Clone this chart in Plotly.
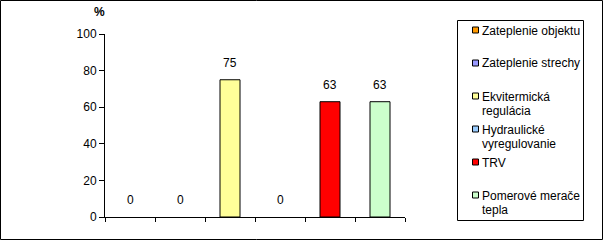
import plotly.graph_objects as go

categories = ["Zateplenie objektu", "Zateplenie strechy", "Ekvitermická regulácia",
              "Hydraulické vyregulovanie", "TRV", "Pomerové merače tepla"]
legend_lines = [["Zateplenie objektu"], ["Zateplenie strechy"],
                ["Ekvitermická", "regulácia"], ["Hydraulické", "vyregulovanie"],
                ["TRV"], ["Pomerové merače", "tepla"]]
values = [0, 0, 75, 0, 63, 63]
colors = ["#FF9900", "#9999FF", "#FFFF99", "#99CCFF", "#FF0000", "#CCFFCC"]
y_ticks = [0, 20, 40, 60, 80, 100]

W, H = 603, 240
L, R, T, B = 105, 198, 34, 23
PW, PH = W - L - R, H - T - B
FONT = "Arial, Liberation Sans, sans-serif"


def px(x):
    return (x - L) / PW


def py(y):
    return (T + PH - y) / PH


fig = go.Figure()
for cat, v, c in zip(categories, values, colors):
    fig.add_trace(go.Bar(x=[cat], y=[v], name=cat, width=0.4, showlegend=False,
                         marker=dict(color=c, line=dict(color="black", width=1 if v else 0))))
    fig.add_annotation(x=cat, y=v, text=str(v), showarrow=False, yanchor="bottom",
                       yshift=8, font=dict(family=FONT, size=12, color="black"))

# "%" unit label
fig.add_annotation(xref="paper", yref="paper", x=px(99), y=py(12.5), xanchor="center",
                   yanchor="middle", text="<b>%</b>", showarrow=False,
                   font=dict(family=FONT, size=12, color="black"))

# outer frame
fig.add_shape(type="rect", xref="paper", yref="paper",
              x0=px(0.5), x1=px(W - 0.5), y0=py(H - 0.5), y1=py(0.5),
              line=dict(color="black", width=1), fillcolor="rgba(0,0,0,0)")

# legend box
fig.add_shape(type="rect", xref="paper", yref="paper",
              x0=px(457.5), x1=px(583.5), y0=py(220.5), y1=py(20.5),
              line=dict(color="black", width=1), fillcolor="white")
row0, row_h, line_h = 29.5, 33, 14
for i, (lines, c) in enumerate(zip(legend_lines, colors)):
    yc = row0 + i * row_h
    fig.add_shape(type="rect", xref="paper", yref="paper",
                  x0=px(472.5), x1=px(478.5), y0=py(yc + 3.5), y1=py(yc - 2.5),
                  line=dict(color="black", width=1), fillcolor=c)
    for j, t in enumerate(lines):
        fig.add_annotation(xref="paper", yref="paper", x=px(480), y=py(yc + j * line_h + 1),
                           xanchor="left", yanchor="middle", text=t, showarrow=False,
                           font=dict(family=FONT, size=12, color="black"))

fig.update_layout(
    width=W, height=H, margin=dict(l=L, r=R, t=T, b=B),
    barmode="overlay", plot_bgcolor="white", paper_bgcolor="white",
    font=dict(family=FONT, size=12, color="black"),
    showlegend=False,
    xaxis=dict(type="category", showline=True, linecolor="black", linewidth=1,
               ticks="outside", tickson="boundaries", ticklen=4, tickcolor="black",
               showticklabels=False, showgrid=False, zeroline=False),
    yaxis=dict(range=[0, 100], tickvals=y_ticks, showline=True, linecolor="black",
               linewidth=1, ticks="outside", ticklen=5, tickcolor="black",
               showgrid=False, zeroline=False, tickfont=dict(family=FONT, size=12)),
)

fig.write_html("out.html")
